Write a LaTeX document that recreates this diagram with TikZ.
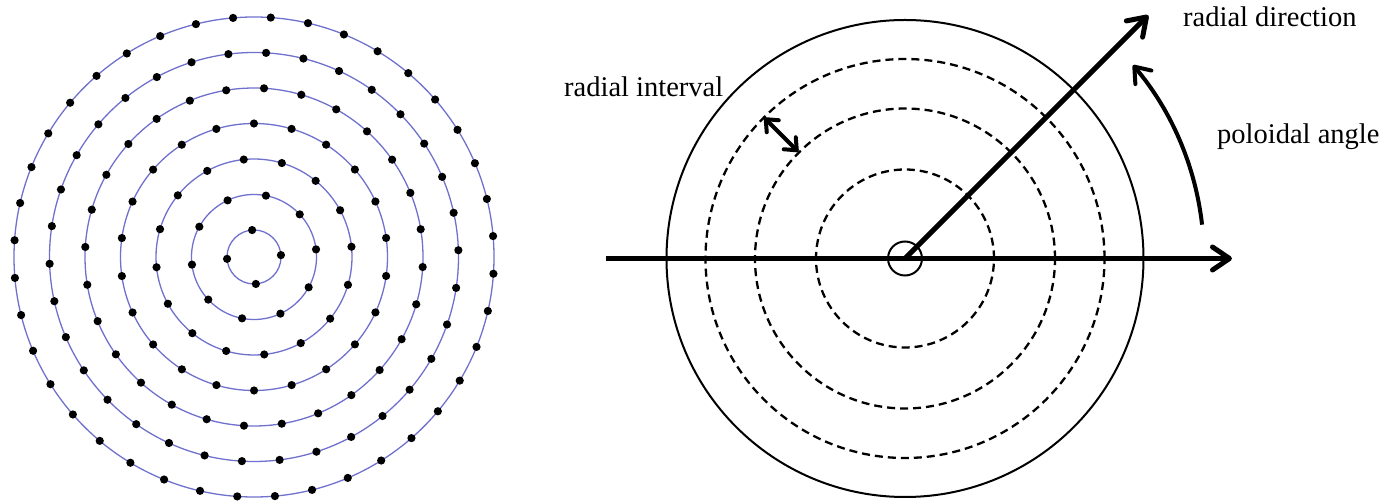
\documentclass[tikz,border=0pt]{standalone}
\usepackage{fontspec}
\setmainfont{Liberation Serif}
\usetikzlibrary{arrows.meta,calc}
\definecolor{ringblue}{RGB}{112,112,205}
\tikzset{
  ringline/.style={draw=ringblue, line width=1.3pt},
  griddot/.style={fill=black},
  solidcirc/.style={draw=black, line width=2pt},
  dashcirc/.style={draw=black, line width=2.3pt, dash pattern=on 8pt off 5pt},
  bigarrow/.style={line width=5pt, -{Straight Barb[length=17pt,width=23pt,line cap=round,line join=round]}},
  arcarrow/.style={line width=4pt, -{Straight Barb[length=14pt,width=21pt,line cap=round,line join=round]}},
  intarrow/.style={line width=4pt, {Straight Barb[length=10pt,width=17pt,line cap=round,line join=round]}-{Straight Barb[length=10pt,width=17pt,line cap=round,line join=round]}},
  lab/.style={anchor=base west, inner sep=0pt, font=\fontsize{28.5}{34}\selectfont}
}
\begin{document}
\begin{tikzpicture}[x=1pt,y=1pt]
\useasboundingbox (0,0) rectangle (1393,-502);
% left figure
\coordinate (L) at (254,-257);
\foreach \r/\n/\o in {27/4/4, 62.5/10/7, 98/16/6, 133.5/22/8.2, 169/28/-3.4, 204.5/34/1.9, 240/40/-4} {
  \draw[ringline] (L) circle[radius=\r];
  \foreach \k in {1,...,\n} {
    \fill[griddot] (L) ++(\o+360*\k/\n:\r) circle[radius=4.1];
  }
}
% right figure
\coordinate (C) at (905,-258.5);
\draw[solidcirc] (C) circle[radius=238.5];
\draw[dashcirc] (C) circle[radius=89];
\draw[dashcirc] (C) circle[radius=150];
\draw[dashcirc] (C) circle[radius=199.5];
\draw[line width=2pt] (C) circle[radius=17];
\coordinate (hL) at (606,-258.5);
\coordinate (hR) at (1232,-258.5);
\draw[bigarrow] (hL) -- (hR);
\coordinate (rT) at ($(C)+(45:344)$);
\draw[bigarrow] (C) -- (rT);
\coordinate (pS) at ($(C)+(6.5:299)$);
\draw[arcarrow] (pS) arc[start angle=6.5, end angle=40.3, radius=299];
\coordinate (iA) at ($(C)+(135:151)$);
\coordinate (iB) at ($(C)+(135:199)$);
\draw[intarrow] (iA) -- (iB);
\node[lab] (t1) at (1183,-27) {radial direction};
\node[lab] (t2) at (1217,-144) {poloidal angle};
\node[lab] (t3) at (564,-97) {radial interval};
\end{tikzpicture}
\end{document}
